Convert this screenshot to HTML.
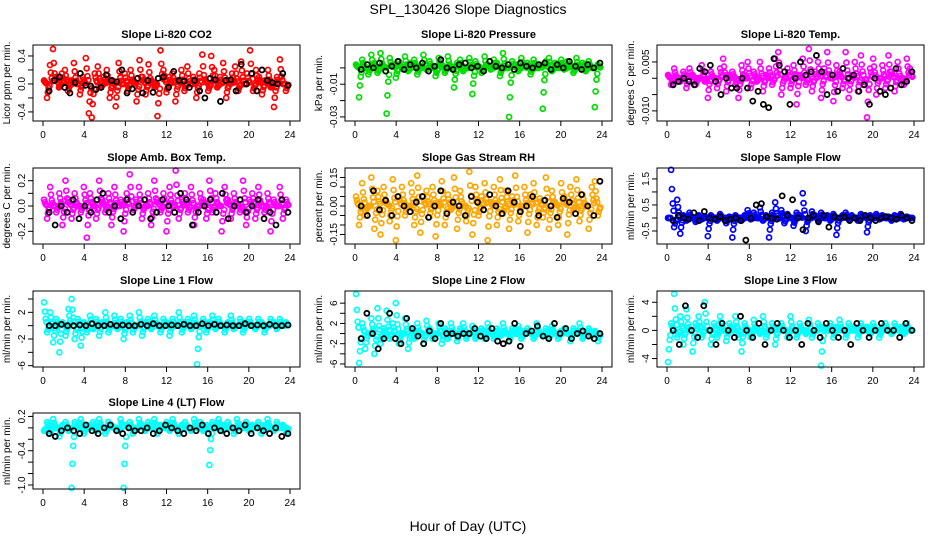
<!DOCTYPE html>
<html><head><meta charset="utf-8"><style>
body{margin:0;background:#fff;}
svg{display:block;font-family:"Liberation Sans",sans-serif;}
</style></head><body>
<svg id="chart" width="936" height="540" viewBox="0 0 936 540" xmlns="http://www.w3.org/2000/svg">
<text x="468" y="14" font-size="14" text-anchor="middle">SPL_130426  Slope Diagnostics</text>
<text x="468" y="531" font-size="14" text-anchor="middle">Hour of Day (UTC)</text>
</svg>
<script>
const xTicks=[0,4,8,12,16,20,24];
const titles=["Slope Li-820 CO2","Slope Li-820 Pressure","Slope Li-820 Temp.","Slope Amb. Box Temp.","Slope Gas Stream RH","Slope Sample Flow","Slope Line 1 Flow","Slope Line 2 Flow","Slope Line 3 Flow","Slope Line 4 (LT) Flow"];
const yTitles=["Licor ppm per min.","kPa per min.","degrees C per min.","degrees C per min.","percent per min.","ml/min per min.","ml/min per min.","ml/min per min.","ml/min per min.","ml/min per min."];
const colors=["#ff0000","#00dd00","#ff00ff","#ff00ff","#ffa500","#0000ff","#00ffff","#00ffff","#00ffff","#00ffff"];
const yRanges=[[-0.53,0.557],[-0.0325,0.014],[-0.0131,0.0102],[-0.3,0.3],[-0.2,0.2],[-1.0,1.92],[-6.2,5.2],[-6.6,8.4],[-5.2,5.6],[-1.07,0.26]];
const yTicks=[[-0.4,-0.2,0,0.2,0.4],[-0.03,-0.02,-0.01,0],[-0.01,-0.005,0,0.005],[-0.2,-0.1,0,0.1,0.2],[-0.15,-0.1,-0.05,0,0.05,0.1,0.15],[-0.5,0,0.5,1,1.5],[-6,-4,-2,0,2,4],[-6,-4,-2,0,2,4,6],[-4,-2,0,2,4],[-1,-0.8,-0.6,-0.4,-0.2,0,0.2]];
const yLabels=[["-0.4","","0.0","","0.4"],["-0.03","","-0.01",""],["-0.010","","","0.005"],["-0.2","","0.0","","0.2"],["-0.15","","","0.00","","","0.15"],["-0.5","","0.5","","1.5"],["-6","","-2","","2",""],["-6","","-2","","2","","6"],["-4","","0","","4"],["-1.0","","","-0.4","","","0.2"]];
const colored=[
[0.05,-0.2,0.27,0.5,0.1,-0.05,0.15,0.2,-0.1,0.05,0.3,0.0,-0.15,0.1,0.37,-0.42,-0.48,0.15,0.25,-0.05,0.1,0.2,-0.2,0.05,-0.32,0.3,0.0,0.15,-0.1,0.2,0.05,-0.25,0.34,0.1,-0.15,0.28,0.05,-0.05,-0.46,0.48,0.2,-0.12,0.1,0.15,-0.25,0.05,0.2,-0.1,0.25,0.0,0.1,-0.2,0.15,0.42,0.05,-0.1,0.4,0.2,-0.05,0.1,0.3,-0.2,0.05,0.15,0.25,-0.1,0.32,0.0,0.15,0.48,-0.1,0.2,0.1,-0.15,0.05,0.2,-0.05,-0.33,0.1,0.35,0.0,-0.1],
[0.002,-0.018,0.005,0.0,-0.004,0.008,0.003,-0.003,0.009,0.001,-0.028,0.006,0.002,-0.006,0.004,0.0,0.007,-0.002,0.003,0.005,-0.004,0.001,0.008,-0.001,0.004,0.0,-0.005,0.006,0.002,-0.003,0.007,0.001,-0.012,0.003,0.005,-0.002,0.0,0.006,-0.016,0.004,0.001,-0.003,0.007,0.002,-0.001,0.005,0.003,-0.005,0.009,0.0,-0.03,0.004,0.002,-0.002,0.006,0.001,0.003,-0.004,0.005,0.0,0.002,-0.025,0.004,0.006,-0.002,0.003,0.0,0.005,-0.001,0.004,0.002,-0.003,0.006,0.001,0.003,-0.002,0.004,0.0,-0.024,0.002],
[0.001,-0.002,0.003,0.0,-0.001,0.002,-0.003,0.003,0.001,-0.002,0.0,0.004,-0.001,-0.006,0.002,0.0,-0.003,0.003,0.006,-0.004,0.001,0.002,-0.002,-0.006,0.004,0.0,0.005,-0.003,0.002,-0.001,0.005,-0.004,0.001,0.003,-0.002,0.006,0.008,-0.005,0.0,0.003,-0.003,0.004,-0.008,0.001,0.006,-0.002,0.009,-0.004,0.002,0.005,-0.006,0.003,0.008,0.0,-0.007,0.004,0.002,-0.003,0.008,-0.006,0.001,0.005,-0.004,0.007,-0.002,-0.012,0.003,0.006,-0.005,0.0,0.004,-0.003,0.007,0.002,-0.004,0.005,0.0,-0.002,0.006,0.003],
[0.05,-0.1,0.15,0.0,-0.05,0.1,-0.15,0.2,0.05,-0.1,0.1,0.0,-0.05,0.15,-0.25,0.1,0.0,-0.1,0.2,0.05,-0.05,0.1,-0.15,0.15,0.0,0.05,-0.2,0.1,0.25,-0.05,0.05,0.15,-0.1,0.0,0.1,-0.15,0.2,0.05,-0.05,0.1,-0.2,0.15,0.0,0.28,-0.1,0.05,0.1,-0.05,0.15,-0.15,0.0,0.1,0.05,-0.1,0.2,-0.05,0.1,0.0,-0.2,0.15,0.05,-0.1,0.1,0.0,-0.05,0.2,-0.15,0.05,0.1,-0.1,0.15,0.0,-0.05,0.1,-0.2,0.05,0.0,0.15,-0.1,0.05],
[0.05,-0.1,0.12,-0.05,0.0,0.15,-0.12,0.08,-0.15,0.1,0.02,-0.08,0.14,-0.18,0.05,0.1,-0.05,0.0,0.12,-0.1,0.16,-0.14,0.05,0.08,-0.06,0.1,-0.16,0.02,0.13,-0.1,0.06,-0.02,0.15,-0.12,0.08,0.0,-0.08,0.18,-0.15,0.1,-0.05,0.05,0.12,-0.18,0.02,0.1,-0.1,0.14,-0.04,0.08,-0.12,0.05,0.16,-0.08,0.0,0.1,-0.14,0.06,0.12,-0.1,0.04,-0.06,0.15,-0.12,0.08,0.02,-0.1,0.12,0.05,-0.15,0.1,-0.02,0.14,-0.08,0.06,0.0,-0.12,0.1,0.13,-0.05],
[0.0,1.85,-0.35,0.7,-0.6,0.1,-0.1,0.2,0.0,-0.15,0.1,-0.05,0.05,-0.7,0.1,0.0,-0.1,0.15,0.0,-0.2,0.05,-0.75,0.1,0.0,-0.1,0.1,0.3,-0.05,0.2,0.0,0.4,-0.1,0.1,-0.75,0.2,0.6,0.0,0.3,-0.2,0.15,0.0,-0.3,0.2,0.1,0.95,-0.5,0.0,0.25,0.1,-0.1,0.2,0.0,0.1,-0.1,0.15,-0.65,0.0,0.1,0.2,-0.05,0.1,0.0,-0.1,0.15,0.05,-0.55,0.1,0.0,0.15,-0.05,0.1,0.0,0.05,-0.1,0.1,0.0,0.15,-0.05,0.05,0.0],
[3.5,-1,2,-2.5,1,-4,0.5,-1.5,2.5,4,-2,1,-3,0.5,-1,1.5,-0.5,1,-1.5,0.5,2,-1,0,1.5,-0.5,1,-2,0.5,1.5,-1,0,2,-1.5,0.5,1,-0.5,1.5,0,-1,1,0.5,-1.5,1,0,2,-1,0.5,1,-0.5,1.5,-5.8,0,1,-1,0.5,1.5,-0.5,1,0,-1,0.5,1.5,-0.5,0,1,-1,0.5,1,0,-0.5,1,0.5,-1,0,1,0.5,-0.5,1,0,0.5],
[7.8,-5.8,2,-3,0,3,-4,5,-2,1,4.5,-1,2,6,-2,0,3,-3,1,-1,2,0,-2,2.5,1,-1,0,2,-2,1,-1,2,0,-1.5,1,2,-1,0,1.5,-1,0.5,1,-1,2,0,-1,1,-0.5,2,0,-1.5,1,0,1.5,-1,0.5,1,0,-1,2,0,-0.5,1,-1,1.5,0,-1,0.5,1,0,-1.5,1,0.5,2,-1,0,1,-0.5,0.5,-1.5],
[-4.5,1,5.2,-1,2,-2,3,0,-3,1,2,-1,4,0,-2,1,-1,2,0,-1.5,1,0,2,-1,-3,1,0,-1,1.5,0,-0.5,2,-1,0,1,-2,0.5,1,0,-1,2,0,-1,1,0,-0.5,1.5,-1,0,1,-5,0.5,0,1,-1,0.5,1.5,0,-1,1,0,0.5,-1,1,0,0.5,-0.5,1,0,-1,0.5,1,0,-0.5,1,0,0.5,-0.5,1,0],
[-0.05,0.1,-0.1,0.15,0.0,-0.15,0.05,0.1,-0.05,-1.05,0.1,0.0,0.15,-0.1,0.05,0.0,0.1,-0.05,0.15,0.0,-0.1,0.1,0.05,0.0,-0.05,0.15,-1.05,0.05,0.1,-0.1,0.0,0.15,0.05,-0.05,0.1,0.0,0.15,-0.1,0.05,0.0,0.1,-0.05,0.15,0.0,-0.1,0.05,0.1,0.0,-0.05,0.15,0.0,0.1,-0.05,0.05,-0.65,0.1,0.0,0.15,-0.05,0.05,0.1,0.0,-0.1,0.15,0.05,0.0,0.1,-0.05,0.05,0.0,0.1,-0.1,0.05,0.15,0.0,-0.05,0.1,0.0,0.05,-0.1]];
const black=[
[-0.1,0.05,0.1,-0.05,-0.13,0.02,0.15,-0.02,-0.03,-0.08,-0.05,0.13,0.05,0.03,0.2,-0.13,-0.07,0.08,-0.13,0.05,-0.12,0.08,0.1,-0.05,0.18,0.05,0.04,-0.05,0.05,-0.1,-0.2,0.08,0.06,-0.25,0.05,0.06,-0.1,0.28,0.0,0.15,-0.1,0.2,0.05,0.02,0.0,0.15,-0.02],
[-0.001,0.002,0.0,0.003,-0.002,0.001,0.004,-0.001,0.002,0.0,0.003,-0.002,0.001,0.005,0.0,-0.001,0.002,0.003,0.0,0.001,-0.002,0.004,0.001,0.0,0.002,-0.001,0.003,0.001,0.0,0.002,0.003,-0.001,0.002,0.0,0.004,0.001,-0.001,0.002,0.0,0.003],
[-0.002,-0.001,0.0,-0.001,-0.002,0.003,0.002,0.004,-0.001,-0.005,0.0,-0.003,-0.003,0.0,-0.003,-0.007,-0.004,-0.008,-0.009,0.006,0.004,0.002,-0.008,0.0,0.005,0.001,0.002,0.007,0.002,-0.005,0.001,-0.004,0.003,0.0,0.001,-0.004,-0.002,-0.008,0.0,-0.004,-0.005,-0.003,0.003,-0.002,-0.001,0.002],
[-0.05,-0.15,0.0,-0.05,0.05,-0.1,0.0,-0.05,0.05,0.1,-0.05,0.0,-0.1,0.05,-0.05,0.0,0.05,-0.1,-0.05,0.05,0.0,-0.05,0.1,0.05,-0.15,-0.05,0.0,0.05,-0.05,0.1,-0.1,0.0,0.05,-0.05,0.0,0.05,-0.1,-0.05,-0.15,0.05,-0.05],
[0.0,-0.05,0.08,-0.02,0.03,-0.05,0.05,0.0,-0.03,0.02,0.05,-0.06,0.0,0.08,-0.04,0.02,0.0,-0.05,0.05,0.02,-0.02,0.06,0.0,-0.04,0.08,0.02,-0.03,0.0,0.05,-0.05,0.03,0.0,-0.06,0.04,0.02,-0.04,0.06,0.0,-0.05,0.13],
[-0.1,0.1,0.0,-0.05,0.2,-0.1,0.25,0.0,-0.05,0.05,-0.1,-0.05,0.0,-0.1,-0.85,0.0,0.5,0.55,0.05,0.0,-0.05,0.85,0.1,0.7,0.0,-0.45,0.0,0.1,-0.15,0.1,-0.35,0.05,0.0,0.05,-0.1,0.0,-0.1,0.1,0.0,-0.1,0.0,0.05,0.0,-0.05,0.1,0.0,-0.1],
[0,0,0.2,0,0,0.1,0,0.3,0,0,0.2,0,0.1,0,0,0.2,0,0.3,0,0,0.1,0,0.2,0,0,0.3,0,0.2,0,0.1,0,0,0.3,0,0.1,0,0.2,0,0,0.1],
[-1,4,0,-3,-1,4,-1,-2,3,1,-0.5,-2,0.5,-1,2,0,0,-0.5,0,0,1,-0.5,-1,1,-1.5,-2,-1.5,2,-2.5,0,0.5,1.5,-0.5,-1,2,0,1,-1,0,0.5,-0.5,-1,0],
[0,-2,3.5,0,-1,3.5,0,-2,1,0,-1,2,0,-1,1,-2,0,1,0,-1,0,-2,1,0,-1,1,0,-1,0,-2,1,0,-1,0,1,0,0,-1,1,0],
[-0.1,-0.15,-0.05,0.0,-0.05,-0.1,0.05,-0.05,-0.1,0.0,0.05,-0.05,-0.1,0.0,-0.05,-0.05,0.0,-0.1,-0.05,0.05,0.0,-0.05,-0.1,0.0,-0.05,0.05,-0.1,0.0,-0.05,-0.1,0.0,-0.05,0.05,-0.1,0.0,-0.05,-0.1,0.0,-0.15,-0.1]];
const shrink=[1,0.6,0.3,0.15];

const NS="http://www.w3.org/2000/svg";
const svg=document.getElementById('chart');
const colX=[33,345,657], rowY=[45,168,291,413], W=267, H=76;
function mk(tag,attrs,parent){const e=document.createElementNS(NS,tag);for(const k in attrs)e.setAttribute(k,attrs[k]);parent.appendChild(e);return e;}
titles.forEach((t,p)=>{
  const cx=colX[p%3], cy=rowY[Math.floor(p/3)];
  const g=mk('g',{},svg);
  
  
  const [y0,y1]=yRanges[p];
  const xs=v=>cx+10+v/24*(W-20);
  const ys=v=>cy+H-(v-y0)/(y1-y0)*H;
  const tt=mk('text',{x:cx+W/2,y:cy-7,'font-size':11,'font-weight':'bold','text-anchor':'middle'},g);tt.textContent=t;
  
  
  const yt=mk('text',{transform:`translate(${cx-23},${cy+H/2}) rotate(-90)`,'font-size':10,'text-anchor':'middle'},g);yt.textContent=yTitles[p];
  
  
  const col=colored[p], n=col.length;
  shrink.forEach((s,k)=>{
    col.forEach((v,i)=>{
      const c=mk('circle',{cx:xs(0.1+k*0.08+i*23.5/(n-1)),cy:ys(v*s),r:2.5,fill:'none',stroke:colors[p],'stroke-width':1.7},g);
      
      
    });
  });
  const bk=black[p], m=bk.length;
  bk.forEach((v,i)=>{
    const c=mk('circle',{cx:xs(0.6+i*23.2/(m-1)),cy:ys(v),r:2.5,fill:'none',stroke:'#000','stroke-width':1.8},g);
    
    
  });
  const box=mk('rect',{x:cx,y:cy,width:W,height:H,fill:'none',stroke:'#000','stroke-width':1},g);
  
  
  mk('line',{x1:xs(0),x2:xs(24),y1:cy+H,y2:cy+H,stroke:'#000'},g);
  xTicks.forEach(v=>{
    mk('line',{x1:xs(v),x2:xs(v),y1:cy+H,y2:cy+H+5,stroke:'#000'},g);
    const l=mk('text',{x:xs(v),y:cy+H+17,'font-size':10,'text-anchor':'middle'},g);l.textContent=v;
    
    
  });
  yTicks[p].forEach((v,i)=>{
    mk('line',{x1:cx,x2:cx-5,y1:ys(v),y2:ys(v),stroke:'#000'},g);
    if(yLabels[p][i]){
      const l=mk('text',{transform:`translate(${cx-8},${ys(v)}) rotate(-90)`,'font-size':10,'text-anchor':'middle'},g);l.textContent=yLabels[p][i];
      
      
    }
  });
});
</script>
</body></html>
